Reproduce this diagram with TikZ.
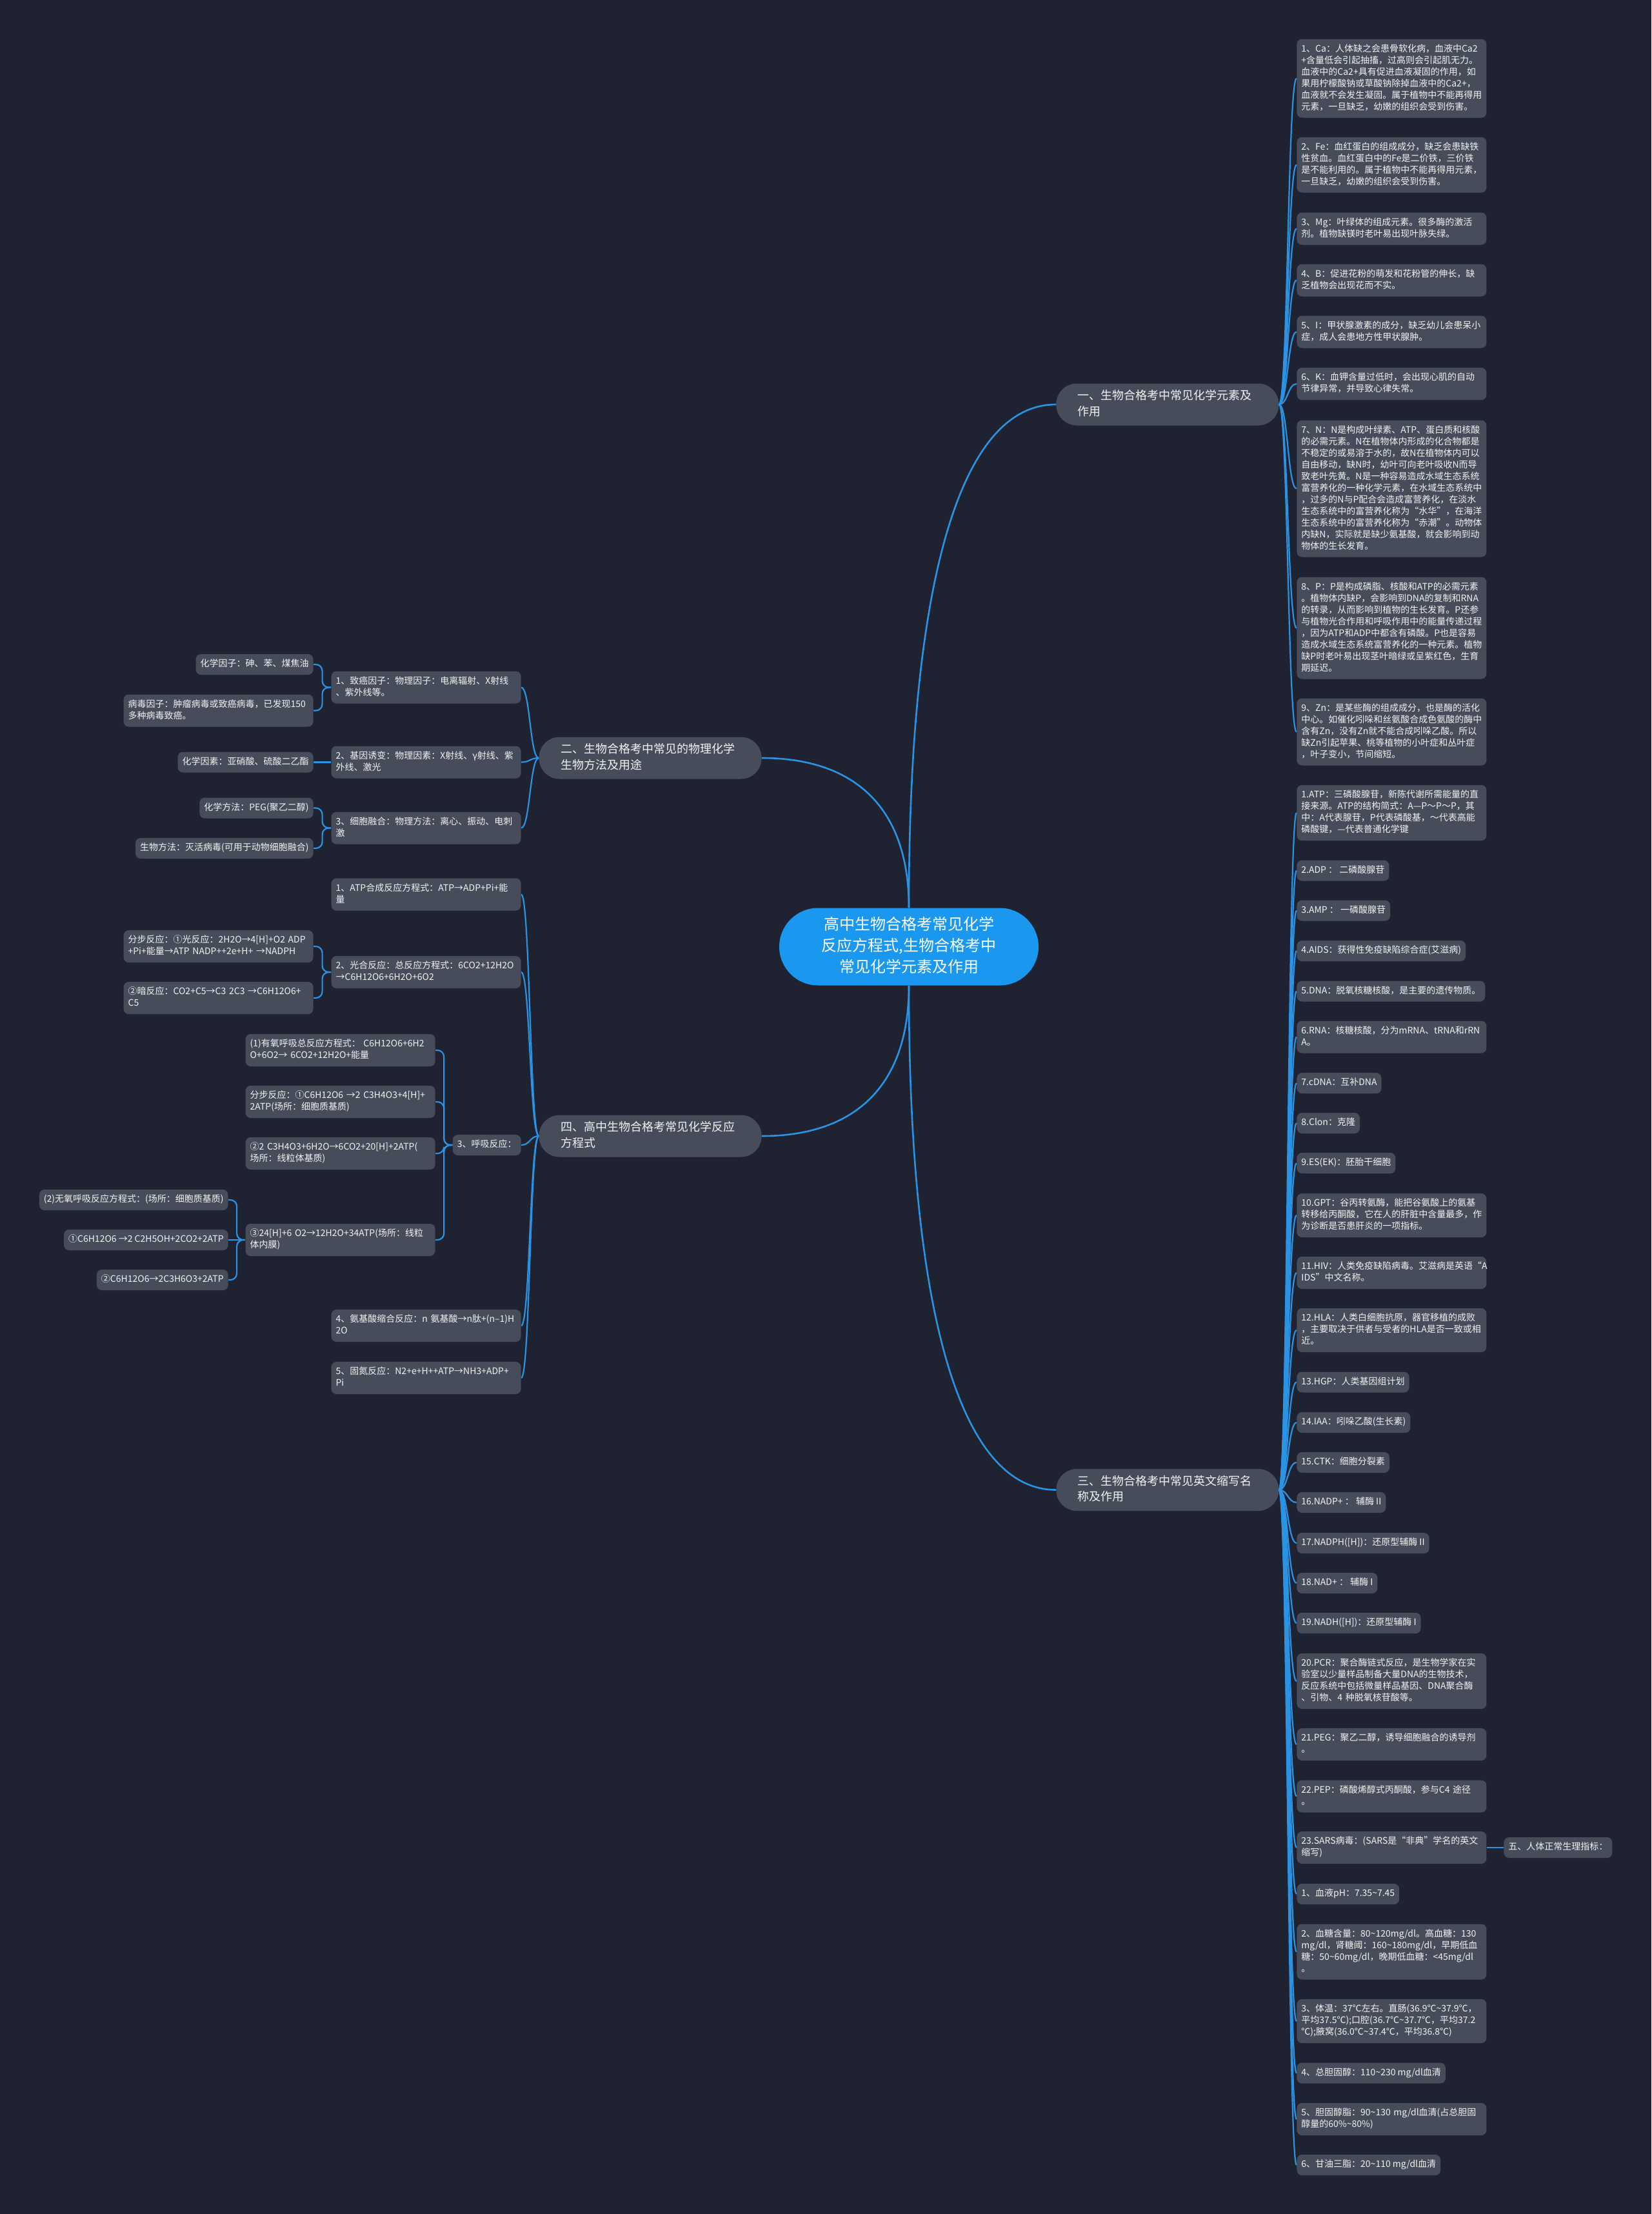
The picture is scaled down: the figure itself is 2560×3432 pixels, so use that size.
\documentclass[tikz,border=0pt]{standalone}
\usepackage{fontspec}
\setmainfont{Noto Sans CJK SC}
\usetikzlibrary{calc}
\definecolor{bgc}{HTML}{1F2331}
\definecolor{boxc}{HTML}{474C5B}
\definecolor{rootc}{HTML}{1A97EF}
\definecolor{linec}{HTML}{2A93E3}
\definecolor{txt}{HTML}{F2F2F2}
\hyphenpenalty=10000
\exhyphenpenalty=10000
\tikzset{
  box/.style={fill=boxc, text=txt, rounded corners=4pt, inner xsep=3.5pt, inner ysep=3.5pt,
    font=\fontsize{7}{9}\selectfont, align=left,
    execute at begin node=\strut, execute at end node=\strut},
  wbox/.style={box, text width=140pt},
  branch/.style={fill=boxc, text=txt, rounded corners=16pt, inner xsep=16.75pt, inner ysep=4pt,
    text width=139pt, align=left, font=\fontsize{9}{12.25}\selectfont,
    execute at begin node=\strut, execute at end node=\strut},
  root/.style={fill=rootc, text=white, rounded corners=30pt, text width=150pt, inner xsep=25.5pt,
    inner ysep=5.25pt, align=center, font=\fontsize{12}{16.5}\selectfont,
    execute at begin node=\strut, execute at end node=\strut},
  conn/.style={draw=linec, line width=1.1pt},
  mconn/.style={draw=linec, line width=1.3pt},
}
\newcommand\scon[2]{\draw[conn] (#1) .. controls ($(#1)!0.5!(#1 -| #2)$) and ($(#2)!0.5!(#2 -| #1)$) .. (#2);}
\newcommand\bcon[2]{\draw[conn,rounded corners=5pt] (#1) -- ($(#1)!0.5!(#1 -| #2)$) |- (#2);}
\newcommand\mcon[2]{\draw[mconn] (#1) .. controls ($(#1)!0.65!(#1 |- #2)$) and ($(#1 |- #2)!0.35!(#2)$) .. (#2);}
\begin{document}
\begin{tikzpicture}[x=0.5pt,y=-0.5pt]
\fill[bgc] (0,0) rectangle (2560,3432);
\useasboundingbox (0,0) rectangle (2560,3432);

% root and main branches
\node[root] (root) at (1409,1467.5) {高中生物合格考常见化学\\反应方程式,生物合格考中\\常见化学元素及作用};
\node[branch,anchor=west] (one) at (1637,627) {一、生物合格考中常见化学元素及\\作用};
\node[branch,anchor=west] (three) at (1637,2309.5) {三、生物合格考中常见英文缩写名\\称及作用};
\node[branch,anchor=east] (two) at (1181,1175) {二、生物合格考中常见的物理化学\\生物方法及用途};
\node[branch,anchor=east] (four) at (1181,1761) {四、高中生物合格考常见化学反应\\方程式};

% branch one children
\node[wbox,anchor=west] (r1) at (2010,121.5) {1、Ca：人体缺之会患骨软化病，血液中Ca2\\+含量低会引起抽搐，过高则会引起肌无力。\\血液中的Ca2+具有促进血液凝固的作用，如\\果用柠檬酸钠或草酸钠除掉血液中的Ca2+，\\血液就不会发生凝固。属于植物中不能再得用\\元素，一旦缺乏，幼嫩的组织会受到伤害。};
\node[wbox,anchor=west] (r2) at (2010,255.5) {2、Fe：血红蛋白的组成成分，缺乏会患缺铁\\性贫血。血红蛋白中的Fe是二价铁，三价铁\\是不能利用的。属于植物中不能再得用元素，\\一旦缺乏，幼嫩的组织会受到伤害。};
\node[wbox,anchor=west] (r3) at (2010,354.5) {3、Mg：叶绿体的组成元素。很多酶的激活\\剂。植物缺镁时老叶易出现叶脉失绿。};
\node[wbox,anchor=west] (r4) at (2010,434.5) {4、B：促进花粉的萌发和花粉管的伸长，缺\\乏植物会出现花而不实。};
\node[wbox,anchor=west] (r5) at (2010,514.5) {5、I：甲状腺激素的成分，缺乏幼儿会患呆小\\症，成人会患地方性甲状腺肿。};
\node[wbox,anchor=west] (r6) at (2010,595) {6、K：血钾含量过低时，会出现心肌的自动\\节律异常，并导致心律失常。};
\node[wbox,anchor=west] (r7) at (2010,757.5) {7、N：N是构成叶绿素、ATP、蛋白质和核酸\\的必需元素。N在植物体内形成的化合物都是\\不稳定的或易溶于水的，故N在植物体内可以\\自由移动，缺N时，幼叶可向老叶吸收N而导\\致老叶先黄。N是一种容易造成水域生态系统\\富营养化的一种化学元素，在水域生态系统中\\，过多的N与P配合会造成富营养化，在淡水\\生态系统中的富营养化称为“水华”，在海洋\\生态系统中的富营养化称为“赤潮”。动物体\\内缺N，实际就是缺少氨基酸，就会影响到动\\物体的生长发育。};
\node[wbox,anchor=west] (r8) at (2010,973.5) {8、P：P是构成磷脂、核酸和ATP的必需元素\\。植物体内缺P，会影响到DNA的复制和RNA\\的转录，从而影响到植物的生长发育。P还参\\与植物光合作用和呼吸作用中的能量传递过程\\，因为ATP和ADP中都含有磷酸。P也是容易\\造成水域生态系统富营养化的一种元素。植物\\缺P时老叶易出现茎叶暗绿或呈紫红色，生育\\期延迟。};
\node[wbox,anchor=west] (r9) at (2010,1134.5) {9、Zn：是某些酶的组成成分，也是酶的活化\\中心。如催化吲哚和丝氨酸合成色氨酸的酶中\\含有Zn，没有Zn就不能合成吲哚乙酸。所以\\缺Zn引起苹果、桃等植物的小叶症和丛叶症\\，叶子变小，节间缩短。};

% branch three children
\node[wbox,anchor=west] (e1) at (2010,1260) {1.ATP：三磷酸腺苷，新陈代谢所需能量的直\\接来源。ATP的结构简式：A—P～P～P，其\\中：A代表腺苷，P代表磷酸基，～代表高能\\磷酸键，—代表普通化学键};
\node[box,anchor=west] (e2) at (2010,1349.5) {2.ADP ： 二磷酸腺苷};
\node[box,anchor=west] (e3) at (2010,1411.5) {3.AMP ： 一磷酸腺苷};
\node[box,anchor=west] (e4) at (2010,1474) {4.AIDS：获得性免疫缺陷综合症(艾滋病)};
\node[box,anchor=west] (e5) at (2010,1536.5) {5.DNA：脱氧核糖核酸，是主要的遗传物质。};
\node[wbox,anchor=west] (e6) at (2010,1607.5) {6.RNA：核糖核酸，分为mRNA、tRNA和rRN\\A。};
\node[box,anchor=west] (e7) at (2010,1679) {7.cDNA：互补DNA};
\node[box,anchor=west] (e8) at (2010,1741) {8.Clon：克隆};
\node[box,anchor=west] (e9) at (2010,1803) {9.ES(EK)：胚胎干细胞};
\node[wbox,anchor=west] (e10) at (2010,1884) {10.GPT：谷丙转氨酶，能把谷氨酸上的氨基\\转移给丙酮酸，它在人的肝脏中含量最多，作\\为诊断是否患肝炎的一项指标。};
\node[wbox,anchor=west] (e11) at (2010,1973) {11.HIV：人类免疫缺陷病毒。艾滋病是英语“A\\IDS”中文名称。};
\node[wbox,anchor=west] (e12) at (2010,2062) {12.HLA：人类白细胞抗原，器官移植的成败\\，主要取决于供者与受者的HLA是否一致或相\\近。};
\node[box,anchor=west] (e13) at (2010,2142.5) {13.HGP：人类基因组计划};
\node[box,anchor=west] (e14) at (2010,2205) {14.IAA：吲哚乙酸(生长素)};
\node[box,anchor=west] (e15) at (2010,2267) {15.CTK：细胞分裂素};
\node[box,anchor=west] (e16) at (2010,2329) {16.NADP+ ： 辅酶 II};
\node[box,anchor=west] (e17) at (2010,2392) {17.NADPH([H])：还原型辅酶 II};
\node[box,anchor=west] (e18) at (2010,2454) {18.NAD+ ： 辅酶 I};
\node[box,anchor=west] (e19) at (2010,2516) {19.NADH([H])：还原型辅酶 I};
\node[wbox,anchor=west] (e20) at (2010,2606) {20.PCR：聚合酶链式反应，是生物学家在实\\验室以少量样品制备大量DNA的生物技术，\\反应系统中包括微量样品基因、DNA聚合酶\\、引物、4~种脱氧核苷酸等。};
\node[wbox,anchor=west] (e21) at (2010,2704) {21.PEG：聚乙二醇，诱导细胞融合的诱导剂\\。};
\node[wbox,anchor=west] (e22) at (2010,2784.5) {22.PEP：磷酸烯醇式丙酮酸，参与C4~途径\\。};
\node[wbox,anchor=west] (e23) at (2010,2864) {23.SARS病毒：(SARS是“非典”学名的英文\\缩写)};
\node[box,anchor=west] (w) at (2331,2864) {五、人体正常生理指标：};
\node[box,anchor=west] (b1) at (2010,2936) {1、血液pH：7.35\textasciitilde 7.45};
\node[wbox,anchor=west] (b2) at (2010,3025.5) {2、血糖含量：80\textasciitilde 120mg/dl。高血糖：130\\mg/dl，肾糖阈：160\textasciitilde 180mg/dl，早期低血\\糖：50\textasciitilde 60mg/dl，晚期低血糖：<45mg/dl\\。};
\node[wbox,anchor=west] (b3) at (2010,3133) {3、体温：37℃左右。直肠(36.9℃\textasciitilde 37.9℃，\\平均37.5℃);口腔(36.7℃\textasciitilde 37.7℃，平均37.2\\℃);腋窝(36.0℃\textasciitilde 37.4℃，平均36.8℃)};
\node[box,anchor=west] (b4) at (2010,3213.5) {4、总胆固醇：110\textasciitilde 230 mg/dl血清};
\node[wbox,anchor=west] (b5) at (2010,3285) {5、胆固醇脂：90\textasciitilde 130~mg/dl血清(占总胆固\\醇量的60\%\textasciitilde 80\%)};
\node[box,anchor=west] (b6) at (2010,3356) {6、甘油三脂：20\textasciitilde 110 mg/dl血清};

% branch two children
\node[wbox,anchor=east] (l1) at (808,1065.5) {1、致癌因子：物理因子：电离辐射、X射线\\、紫外线等。};
\node[wbox,anchor=east] (l2) at (808,1181.5) {2、基因诱变：物理因素：X射线、γ射线、紫\\外线、激光};
\node[wbox,anchor=east] (l3) at (808,1283.5) {3、细胞融合：物理方法：离心、振动、电刺\\激};
\node[box,anchor=east] (l1a) at (486,1030) {化学因子：砷、苯、煤焦油};
\node[wbox,anchor=east] (l1b) at (486,1101.5) {病毒因子：肿瘤病毒或致癌病毒，已发现150\\多种病毒致癌。};
\node[box,anchor=east] (l2a) at (486,1181.5) {化学因素：亚硝酸、硫酸二乙酯};
\node[box,anchor=east] (l3a) at (486,1252.5) {化学方法：PEG(聚乙二醇)};
\node[box,anchor=east] (l3b) at (486,1315) {生物方法：灭活病毒(可用于动物细胞融合)};

% branch four children
\node[wbox,anchor=east] (m1) at (808,1386.5) {1、ATP合成反应方程式：ATP→ADP+Pi+能\\量};
\node[wbox,anchor=east] (m2) at (808,1507) {2、光合反应：总反应方程式：6CO2+12H2O\\→C6H12O6+6H2O+6O2};
\node[box,anchor=east] (m3) at (808,1775) {3、呼吸反应：};
\node[wbox,anchor=east] (m4) at (808,2055) {4、氨基酸缩合反应：n~氨基酸→n肽+(n–1)H\\2O};
\node[wbox,anchor=east] (m5) at (808,2136) {5、固氮反应：N2+e+H++ATP→NH3+ADP+\\Pi};
\node[wbox,anchor=east] (m2a) at (486,1467) {分步反应：①光反应：2H2O→4[H]+O2~ADP\\+Pi+能量→ATP~NADP++2e+H+~→NADPH};
\node[wbox,anchor=east] (m2b) at (486,1547) {②暗反应：CO2+C5→C3~2C3~→C6H12O6+\\C5};
\node[wbox,anchor=east] (m3a) at (675,1628) {(1)有氧呼吸总反应方程式：~C6H12O6+6H2\\O+6O2→~6CO2+12H2O+能量};
\node[wbox,anchor=east] (m3b) at (675,1708) {分步反应：①C6H12O6~→2~C3H4O3+4[H]+\\2ATP(场所：细胞质基质)};
\node[wbox,anchor=east] (m3c) at (675,1788) {②2~C3H4O3+6H2O→6CO2+20[H]+2ATP(\\场所：线粒体基质)};
\node[wbox,anchor=east] (m3d) at (675,1922) {③24[H]+6~O2→12H2O+34ATP(场所：线粒\\体内膜)};
\node[box,anchor=east] (m3d1) at (354,1860) {(2)无氧呼吸反应方程式：(场所：细胞质基质)};
\node[box,anchor=east] (m3d2) at (354,1922) {①C6H12O6 →2 C2H5OH+2CO2+2ATP};
\node[box,anchor=east] (m3d3) at (354,1984) {②C6H12O6→2C3H6O3+2ATP};

% main connectors
\mcon{root.north}{one.west}
\mcon{root.north}{two.east}
\mcon{root.south}{three.west}
\mcon{root.south}{four.east}

% fans
\foreach \n in {r1,r2,r3,r4,r5,r6,r7,r8,r9} {\scon{one.east}{\n.west}}
\foreach \n in {e1,e2,e3,e4,e5,e6,e7,e8,e9,e10,e11,e12,e13,e14,e15,e16,e17,e18,e19,e20,e21,e22,e23,b1,b2,b3,b4,b5,b6} {\scon{three.east}{\n.west}}
\foreach \n in {l1,l2,l3} {\scon{two.west}{\n.east}}
\foreach \n in {m1,m2,m3,m4,m5} {\scon{four.west}{\n.east}}

% brackets
\bcon{l1.west}{l1a.east}
\bcon{l1.west}{l1b.east}
\draw[conn] (l2.west) -- (l2.west -| l2a.east);
\bcon{l3.west}{l3a.east}
\bcon{l3.west}{l3b.east}
\bcon{m2.west}{m2a.east}
\bcon{m2.west}{m2b.east}
\bcon{m3.west}{m3a.east}
\bcon{m3.west}{m3b.east}
\bcon{m3.west}{m3c.east}
\bcon{m3.west}{m3d.east}
\bcon{m3d.west}{m3d1.east}
\draw[conn] (m3d.west) -- (m3d.west -| m3d2.east);
\bcon{m3d.west}{m3d3.east}
\draw[conn] (e23.east) -- (e23.east -| w.west);
\end{tikzpicture}
\end{document}
